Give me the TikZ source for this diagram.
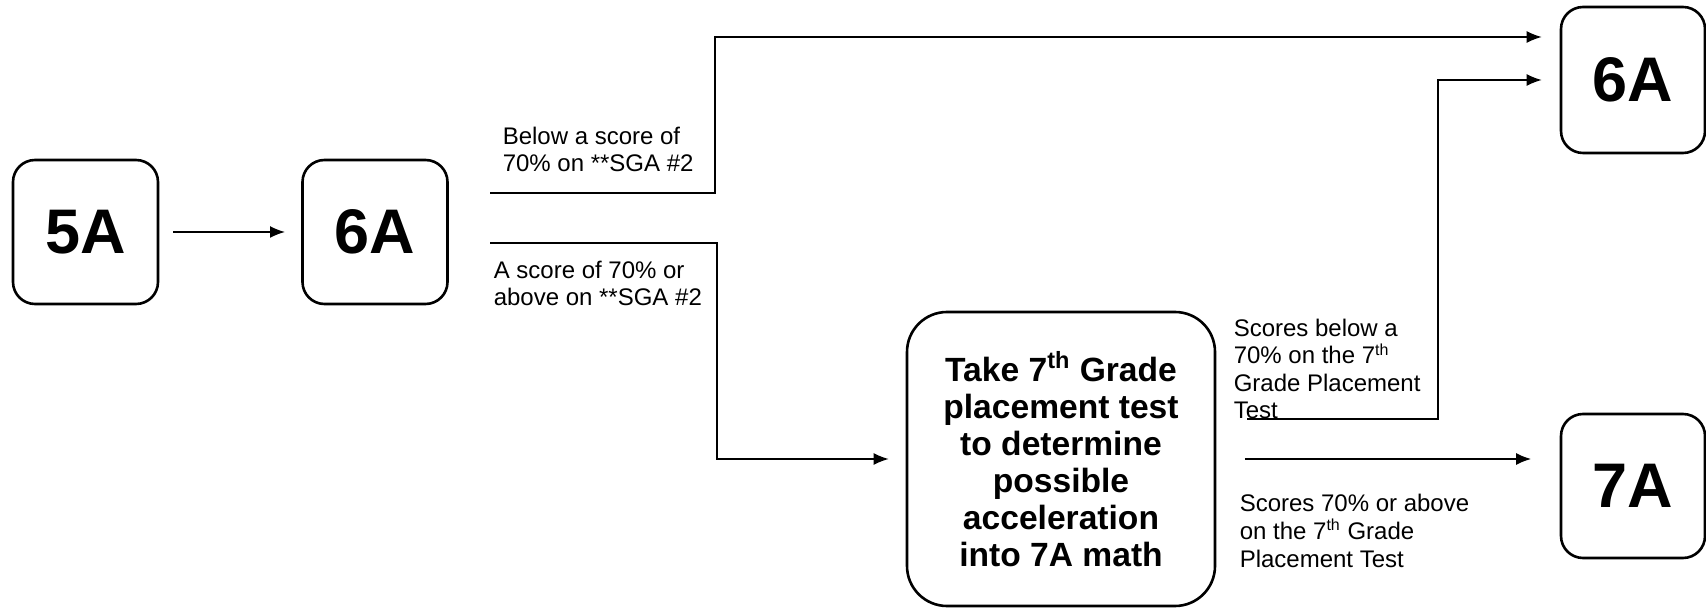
\documentclass[tikz,border=0pt]{standalone}
\usepackage{fontspec}
\setmainfont{Liberation Sans}
\usetikzlibrary{arrows.meta, positioning}

\begin{document}
\begin{tikzpicture}[x=0.5pt, y=-0.5pt, >={Latex[length=7.5pt, width=6pt]}, line width=0.75pt,
  grade/.style={draw, line width=1.3pt, rounded corners=11pt, inner sep=0pt,
    minimum width=72pt, minimum height=72pt, font=\fontsize{31.5pt}{36pt}\selectfont\bfseries},
  note/.style={align=left, inner sep=0pt, anchor=base west, font=\fontsize{12pt}{13.8pt}\selectfont}]
\useasboundingbox (0,0) rectangle (1706,608);

\node [grade, minimum width=72.5pt] (g5) at (85.5,232) {5A};
\node [grade, minimum width=72.5pt] (g6) at (375,232) {6A};
\node [grade, minimum height=73pt] (g6b) at (1633,80) {6A};
\node [grade] (g7) at (1633,486) {7A};
\node [draw, line width=1.3pt, rounded corners=20pt, minimum width=154pt, minimum height=147pt,
  align=center, font=\fontsize{16.8pt}{18.5pt}\selectfont\bfseries] (test) at (1061,459)
  {Take 7\textsuperscript{th} Grade\\placement test\\to determine\\possible\\acceleration\\into 7A math};

\node [note] (n1) at (502,172) {Below a score of\\70\% on **SGA \#2};
\node [note] (n2) at (493,306) {A score of 70\% or\\above on **SGA \#2};
\node [note] (n3) at (1233,419) {Scores below a\\70\% on the 7\textsuperscript{th}\\Grade Placement\\Test};
\node [note] (n4) at (1239,567) {Scores 70\% or above\\on the 7\textsuperscript{th} Grade\\Placement Test};

\coordinate (up0) at (490,193);
\coordinate (up1) at (715,37);
\coordinate (lo0) at (490,243);
\coordinate (lo1) at (717,459);
\coordinate (fb0) at (1247,419);
\coordinate (fb1) at (1438,80);

\draw[->, shorten <=6.9pt, shorten >=8.1pt] (g5) -- (g6);
\draw[->, shorten >=9pt] (up0) -| (up1) -- (up1 -| g6b.west);
\draw[->, shorten >=8.5pt] (lo0) -| (lo1) -- (test.west);
\draw[->, shorten >=9pt] (fb0) -| (fb1) -- (g6b.west);
\draw[->, shorten <=14.3pt, shorten >=14.3pt] (test.east) -- (test.east -| g7.west);
\end{tikzpicture}
\end{document}
